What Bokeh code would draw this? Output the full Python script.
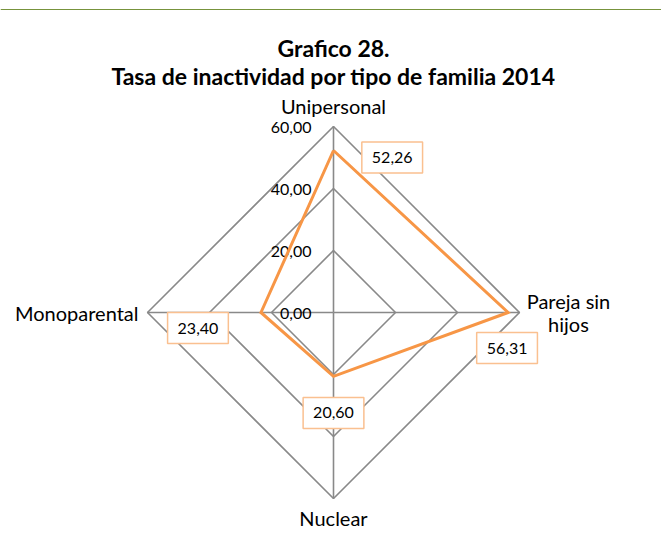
import numpy as np
from bokeh.plotting import figure
from bokeh.models import Range1d, Span
from bokeh.core.properties import value
from bokeh.embed import file_html
from bokeh.resources import INLINE

# ---- data ----
categories = ["Unipersonal", "Pareja sin\nhijos", "Nuclear", "Monoparental"]
values = [52.26, 56.31, 20.60, 23.40]
value_labels = ["52,26", "56,31", "20,60", "23,40"]
tick_values = [0, 20, 40, 60]
tick_labels = ["0,00", "20,00", "40,00", "60,00"]
title_lines = ["Grafico 28.", "Tasa de inactividad por tipo de familia 2014"]

# ---- layout / style ----
W, H = 661, 543
scale = 3.1           # px per unit
cx, cy = 333, 312     # centre in figure px
FONT = "Lato"
ORANGE = "#F79646"
GRID = "#898989"

angles_deg = [90, 0, -90, 180]
ang = np.deg2rad(angles_deg)
rmax = tick_values[-1]

p = figure(width=W, height=H, output_backend="svg", toolbar_location=None,
           x_range=Range1d(-cx / scale, (W - cx) / scale),
           y_range=Range1d(-(H - cy) / scale, cy / scale),
           x_axis_location=None, y_axis_location=None, min_border=0)
p.grid.visible = False
p.outline_line_color = None
p.background_fill_color = "white"
p.border_fill_color = "white"

# top rule
p.add_layout(Span(location=(cy - 9) / scale, dimension="width",
                  line_color="#77933C", line_width=1.2))

# grid diamonds
gx, gy = [], []
for lvl in tick_values[1:]:
    xs = list(lvl * np.cos(ang)) + [lvl * np.cos(ang[0])]
    ys = list(lvl * np.sin(ang)) + [lvl * np.sin(ang[0])]
    gx.append(xs)
    gy.append(ys)
p.multi_line(gx, gy, line_color=GRID, line_width=1.6)

# spokes
p.segment(x0=[0] * 4, y0=[0] * 4, x1=list(rmax * np.cos(ang)), y1=list(rmax * np.sin(ang)),
          line_color=GRID, line_width=1.6)

# tick labels
p.text(x=[-7.1] * len(tick_values), y=tick_values, text=tick_labels,
       text_font=value(FONT), text_font_size="16px", text_color="#000000",
       text_align="right", text_baseline="middle", y_offset=1)

# series
vx = [v * np.cos(a) for v, a in zip(values, ang)]
vy = [v * np.sin(a) for v, a in zip(values, ang)]
p.line(vx + [vx[0]], vy + [vy[0]], line_color=ORANGE, line_width=3, line_join="miter")

# value labels with boxes
p.text(x=vx, y=vy, text=value_labels,
       x_offset=[58.7, -1, 0, -63], y_offset=[7, 35.5, 36.6, 15.5],
       text_font=value(FONT), text_font_size="16px", text_color="#000000",
       text_align="center", text_baseline="middle",
       background_fill_color="white", border_line_color="#FAC090", border_line_width=1.5,
       padding=dict(left=10, right=10, top=10, bottom=10))

# category labels
ex = list(rmax * np.cos(ang))
ey = list(rmax * np.sin(ang))
p.text(x=ex, y=ey, text=categories,
       x_offset=[0, 49, 0, -9], y_offset=[-21, 0, 19, 0],
       text_align=["center", "center", "center", "right"],
       text_font=value(FONT), text_font_size="20px", text_color="#000000",
       text_baseline="middle", text_line_height=0.96)

# title
p.text(x=[0, 0], y=[(cy - 47) / scale, (cy - 75) / scale], text=title_lines,
       text_font=value(FONT), text_font_size="23px", text_font_style="bold",
       text_color="#000000", text_align="center", text_baseline="middle")

open("out.html", "w").write(file_html(p, INLINE))
